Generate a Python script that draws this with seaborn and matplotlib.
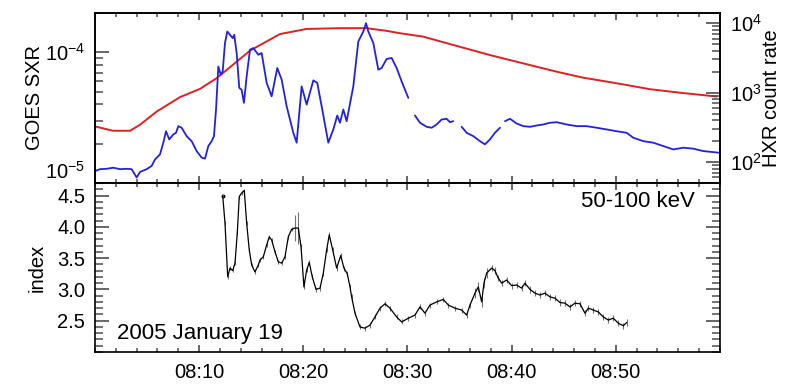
import numpy as np
import pandas as pd
import seaborn as sns
import matplotlib.pyplot as plt
import matplotlib.dates as mdates
from matplotlib.ticker import LogLocator, MultipleLocator, FixedLocator, FormatStrFormatter, NullFormatter

# GOES soft X-ray flux (minutes after 08:00 UT, W/m^2)
goes_min = [0.00, 1.73, 3.36, 4.32, 5.92, 8.16, 10.08, 11.68, 13.60, 14.88, 17.76, 20.32, 23.52,
            26.08, 28.00, 29.28, 31.49, 34.72, 37.92, 41.09, 44.32, 46.85, 50.08, 53.28, 56.45, 59.68]
goes_flux = [2.71e-5, 2.51e-5, 2.51e-5, 2.79e-5, 3.52e-5, 4.54e-5, 5.25e-5, 6.34e-5, 8.48e-5, 1.03e-4,
             1.38e-4, 1.51e-4, 1.53e-4, 1.53e-4, 1.46e-4, 1.40e-4, 1.32e-4, 1.12e-4, 9.53e-5, 8.24e-5,
             7.11e-5, 6.40e-5, 5.80e-5, 5.22e-5, 4.88e-5, 4.59e-5]

# HXR count rate (nan = data gap)
nan = np.nan
hxr_min = [0.00, 0.48, 1.12, 1.76, 2.40, 3.04, 3.52, 4.00, 4.32, 4.96,
           5.44, 5.76, 6.24, 6.56, 6.82, 7.13, 7.52, 7.78, 8.00, 8.32,
           8.80, 9.28, 9.76, 10.24, 10.56, 10.88, 11.20, 11.42, 11.62, 11.84,
           12.07, 12.26, 12.48, 12.70, 12.96, 13.22, 13.37, 13.60, 13.85, 14.08,
           14.30, 14.56, 14.88, 15.20, 15.68, 16.00, 16.48, 16.96, 17.50, 17.92,
           18.40, 19.04, 19.36, 19.84, 20.32, 20.96, 21.34, 21.76, 22.40, 22.88,
           23.26, 23.52, 23.84, 24.16, 24.80, 25.28, 25.76, 26.02, 26.24, 26.72,
           27.20, 27.52, 28.00, 28.48, 28.96, 29.44, 30.08, 30.40, 30.72, 31.20,
           31.84, 32.32, 32.80, 33.28, 33.76, 34.08, 34.40, 34.80, 35.20, 35.68,
           36.32, 36.96, 37.44, 37.92, 38.40, 38.88, 39.12, 39.36, 39.84, 40.48,
           41.12, 41.76, 42.40, 43.04, 43.68, 44.32, 45.28, 46.24, 47.20, 48.16,
           49.12, 50.08, 51.04, 51.68, 52.64, 53.60, 54.56, 55.52, 56.48, 57.44,
           58.40, 59.36, 60.00]
hxr_rate = [74, 79, 80, 83, 79, 80, 79, 60, 72, 79,
            88, 109, 129, 190, 278, 212, 250, 264, 329, 312,
            236, 200, 144, 116, 112, 170, 200, 236, 570, 2380,
            1810, 2020, 5170, 7580, 6790, 6090, 6790, 3710, 1170, 1100,
            712, 1710, 4140, 4380, 3510, 3710, 1380, 885, 2260, 1540,
            636, 264, 190, 1230, 673, 1500, 1380, 636, 190, 295,
            468, 368, 570, 388, 1230, 5450, 7580, 10000, 7580, 5170,
            2140, 2260, 3050, 3150, 2260, 1450, 840, nan, 468, 368,
            322, 312, 348, 410, 420, 375, 388, nan, 322, 264,
            236, 200, 180, 212, 264, 312, nan, 388, 420, 359,
            329, 322, 336, 348, 368, 375, 348, 329, 329, 312,
            295, 278, 264, 224, 200, 190, 170, 152, 161, 156,
            144, 139, 136]

# spectral index 50-100 keV
idx_min = [12.26, 12.48, 12.74, 12.96, 13.22, 13.44, 13.66, 13.85, 14.08, 14.33,
           14.56, 14.81, 15.04, 15.36, 15.68, 15.84, 16.16, 16.48, 16.73, 16.96,
           17.28, 17.60, 17.92, 18.24, 18.56, 18.88, 19.20, 19.52, 19.78, 20.06,
           20.32, 20.57, 20.86, 21.22, 21.60, 21.92, 22.24, 22.49, 22.82, 23.20,
           23.59, 23.90, 24.22, 24.48, 24.64, 24.96, 25.44, 25.92, 26.40, 26.88,
           27.36, 27.84, 28.32, 28.96, 29.44, 30.08, 30.72, 31.20, 31.68, 32.16,
           32.80, 33.44, 33.92, 34.56, 35.20, 35.68, 36.00, 36.48, 36.80, 37.12,
           37.34, 37.60, 38.08, 38.40, 38.72, 39.04, 39.52, 40.00, 40.48, 40.96,
           41.28, 41.76, 42.24, 42.72, 43.20, 43.68, 44.16, 44.64, 45.12, 45.60,
           46.08, 46.56, 47.04, 47.36, 47.84, 48.32, 48.80, 49.28, 49.76, 50.24,
           50.72, 51.04]
idx_val = [4.50, 4.06, 3.20, 3.34, 3.30, 3.42, 3.90, 4.48, 4.54, 4.58,
           4.06, 3.63, 3.39, 3.28, 3.39, 3.47, 3.52, 3.71, 3.84, 3.79,
           3.60, 3.44, 3.42, 3.52, 3.84, 3.96, 3.98, 3.98, 3.68, 3.04,
           3.31, 3.43, 3.20, 3.00, 3.02, 3.26, 3.63, 3.87, 3.63, 3.34,
           3.54, 3.34, 3.25, 3.04, 2.88, 2.62, 2.40, 2.38, 2.43, 2.56,
           2.70, 2.77, 2.70, 2.56, 2.48, 2.54, 2.59, 2.72, 2.62, 2.75,
           2.80, 2.84, 2.75, 2.70, 2.67, 2.59, 2.75, 2.94, 3.04, 2.80,
           3.10, 3.26, 3.34, 3.30, 3.18, 3.10, 3.15, 3.06, 3.07, 3.02,
           3.10, 3.00, 2.94, 2.91, 2.94, 2.88, 2.86, 2.79, 2.78, 2.72,
           2.78, 2.77, 2.62, 2.70, 2.67, 2.64, 2.56, 2.51, 2.54, 2.46,
           2.42, 2.47]
idx_err = [0.03] * 26 + [0.21, 0.26] + [0.04] * 39 + [0.08] * 5 + [0.05] * 30
idx_ticks = [2.5, 3.0, 3.5, 4.0, 4.5]

sns.set_style('ticks')
plt.rcParams['font.family'] = ['Liberation Sans', 'DejaVu Sans']
plt.rcParams['mathtext.fontset'] = 'custom'
plt.rcParams['mathtext.rm'] = 'Liberation Sans'
plt.rcParams['mathtext.it'] = 'Liberation Sans:italic'
plt.rcParams['axes.linewidth'] = 1.2
plt.rcParams['text.color'] = 'black'
plt.rcParams['axes.labelcolor'] = 'black'
plt.rcParams['axes.edgecolor'] = 'black'
for a in ('xtick', 'ytick'):
    plt.rcParams[a + '.direction'] = 'in'
    plt.rcParams[a + '.minor.visible'] = True
    plt.rcParams[a + '.minor.size'] = 5.5
    plt.rcParams[a + '.minor.width'] = 1.1
    plt.rcParams[a + '.major.size'] = 10
    plt.rcParams[a + '.major.width'] = 1.2
    plt.rcParams[a + '.color'] = '0.3'
    plt.rcParams[a + '.labelcolor'] = 'black'

t0 = pd.Timestamp('2005-01-19 08:00')
t1 = t0 + pd.Timedelta(minutes=60)

goes = pd.DataFrame({'min': goes_min, 'flux': goes_flux})
goes['time'] = t0 + pd.to_timedelta(goes['min'], unit='min')

hxr = pd.DataFrame({'min': hxr_min, 'rate': hxr_rate})
hxr['seg'] = hxr['rate'].isna().cumsum()
hxr = hxr.dropna()
hxr['time'] = t0 + pd.to_timedelta(hxr['min'], unit='min')

spec = pd.DataFrame({'min': idx_min, 'index': idx_val, 'err': idx_err})
spec['time'] = t0 + pd.to_timedelta(spec['min'], unit='min')

fig = plt.figure(figsize=(7.89, 3.88), dpi=100)
ax1 = fig.add_axes([0.1204, 0.5284, 0.7921, 0.4381])
ax2 = fig.add_axes([0.1204, 0.0928, 0.7921, 0.4356], sharex=ax1)
ax1b = ax1.twinx()

red = '#dd2222'
blue = '#2222dd'
fs = 14.5

# top panel
ax1.set_yscale('log')
ax1b.set_yscale('log')
sns.lineplot(data=goes, x='time', y='flux', ax=ax1, color=red, lw=1.4)
sns.lineplot(data=hxr, x='time', y='rate', units='seg', estimator=None, ax=ax1b, color=blue, lw=1.3)
ax1.set_ylim(1e-5, 2e-4)
ax1b.set_ylim(50, 1.4e4)
ax1.set_ylabel('GOES SXR', fontsize=fs, labelpad=1)
ax1b.set_ylabel('HXR count rate', fontsize=fs, labelpad=0)
ax1.set_xlabel('')
ax1b.set_xlabel('')

for ax in (ax1, ax1b):
    ax.yaxis.set_major_locator(LogLocator(base=10))
    ax.yaxis.set_minor_locator(LogLocator(base=10, subs=np.arange(2, 10), numticks=20))
    ax.yaxis.set_minor_formatter(NullFormatter())
    ax.tick_params(axis='y', which='major', labelsize=fs, pad=7)

# bottom panel
ax2.errorbar(spec['time'], spec['index'], yerr=spec['err'], fmt='none', ecolor='0.45', elinewidth=0.8)
sns.lineplot(data=spec, x='time', y='index', ax=ax2, color='black', lw=0.9)
sns.scatterplot(data=spec.iloc[:1], x='time', y='index', ax=ax2, color='black', s=8, linewidth=0)
ax2.set_ylim(2.0, 4.7)
ax2.yaxis.set_major_locator(FixedLocator(idx_ticks))
ax2.yaxis.set_minor_locator(MultipleLocator(0.1))
ax2.yaxis.set_major_formatter(FormatStrFormatter('%.1f'))
ax2.set_ylabel('index', fontsize=fs, labelpad=8)
ax2.set_xlabel('')
ax2.tick_params(axis='y', which='both', left=True, right=True)
ax2.tick_params(axis='y', which='major', labelsize=fs, pad=7)
ax2.text(0.035, 0.05, '2005 January 19', transform=ax2.transAxes, fontsize=16, ha='left', va='bottom')
ax2.text(0.96, 0.95, '50-100 keV', transform=ax2.transAxes, fontsize=16, ha='right', va='top')

# shared time axis
ax2.set_xlim(t0, t1)
ax2.xaxis.set_major_locator(mdates.MinuteLocator(byminute=[10, 20, 30, 40, 50]))
ax2.xaxis.set_minor_locator(mdates.MinuteLocator(byminute=range(0, 60, 2)))
ax2.xaxis.set_major_formatter(mdates.DateFormatter('%H:%M'))
for ax in (ax1, ax2):
    ax.tick_params(axis='x', which='both', top=True, bottom=True)
    ax.tick_params(axis='x', which='major', length=5)
    ax.tick_params(axis='x', which='minor', length=3)
ax1.tick_params(axis='x', labelbottom=False)
ax2.tick_params(axis='x', labelsize=fs, pad=8)

# lift the 10^-5 label above the panel boundary so it clears "4.5"
fig.canvas.draw()
for lab in ax1.get_yticklabels():
    if lab.get_position()[1] < 1.5e-5:
        lab.set_va('bottom')

fig.savefig('out.png', dpi=100)
